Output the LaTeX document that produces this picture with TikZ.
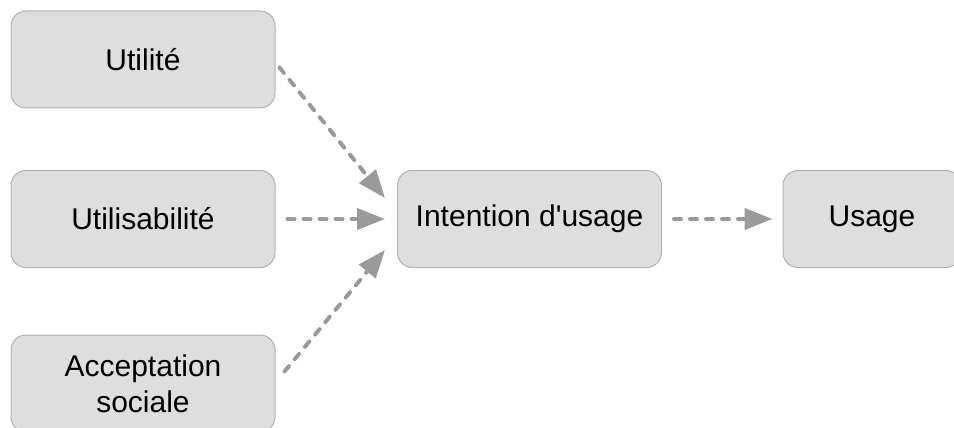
\documentclass[tikz,border=0pt]{standalone}
\usepackage{fontspec}
\newfontfamily\boxfont{Liberation Sans}
\usetikzlibrary{arrows.meta,calc}

\definecolor{boxfill}{HTML}{DEDEDE}
\definecolor{boxline}{HTML}{B2B2B2}
\definecolor{arrowgray}{HTML}{9A9A9A}

\begin{document}
\begin{tikzpicture}[
  x=1pt,y=-1pt,
  font=\boxfont\fontsize{30}{36}\selectfont,
  factor/.style={draw=boxline,line width=1pt,rounded corners=15pt,fill=boxfill,
    minimum width=264pt,minimum height=97pt,align=center,inner sep=0pt},
  to/.style={-{Triangle[length=28pt,width=21pt]},arrowgray,line width=4pt,
    line cap=round,dash pattern=on 7pt off 9pt}]

  % Fix the page to the reference size
  \useasboundingbox (0,0) rectangle (954,428);
  \clip (0,0) rectangle (954,428);

  % The boxes
  \node[factor] (utilite) at (143,59.5) {Utilité};
  \node[factor] (utilisabilite) at (143,219) {Utilisabilité};
  \node[factor] (acceptation) at (143,383.5) {Acceptation\\sociale};
  \node[factor] (intention) at (529.5,219) {Intention d'usage};
  \node[factor,minimum width=178pt] (usage) at (872,219) {Usage};

  % Draw the arrows between the boxes
  \draw[to] ($(utilite.east)+(4,8)$) -- ($(intention.west)+(-12,-21)$);
  \draw[to] ($(utilisabilite.east)+(12,0)$) -- ($(intention.west)+(-12,0)$);
  \draw[to] ($(acceptation.east)+(9,-12)$) -- ($(intention.west)+(-12,31)$);
  \draw[to] ($(intention.east)+(12,0)$) -- ($(usage.west)+(-10,0)$);

\end{tikzpicture}
\end{document}
